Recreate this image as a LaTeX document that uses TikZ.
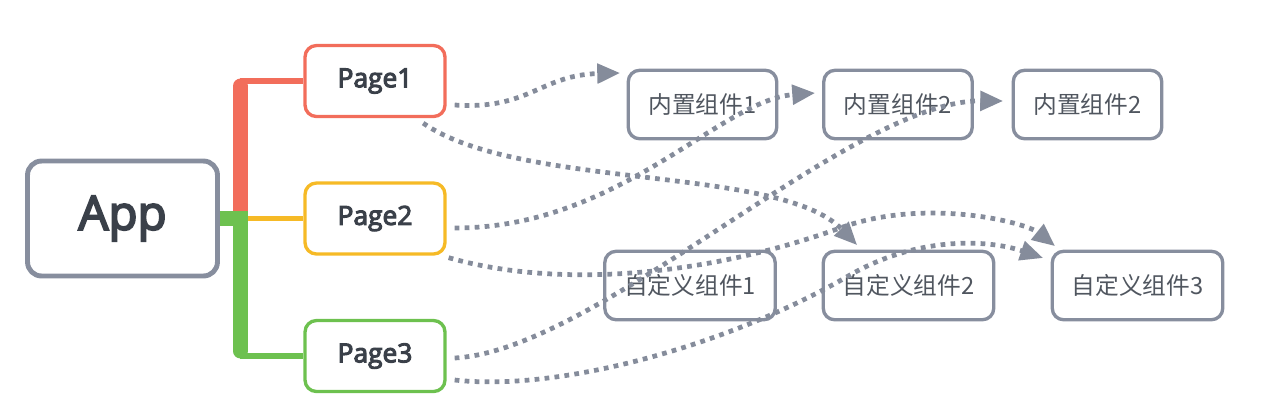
\documentclass[tikz,border=0pt]{standalone}
\usepackage{fontspec}
\setmainfont{Open Sans}
\newfontfamily\pagefont{Open Sans}[FakeBold=4]
\newfontfamily\cjkfont{Noto Sans CJK SC}
\usetikzlibrary{arrows.meta,calc}

\definecolor{colorBOX}{HTML}{878E9E}
\definecolor{colorP1}{HTML}{F26D5B}
\definecolor{colorP2}{HTML}{F6BA26}
\definecolor{colorP3}{HTML}{6DC14F}
\definecolor{colorDEP}{HTML}{858C9B}
\definecolor{colorTXT}{HTML}{3A4049}
\definecolor{colorCJK}{HTML}{50565F}
\tikzset{
   app/.style={draw=colorBOX,line width=2.8pt,rounded corners=8pt,minimum width=3.8cm,minimum height=2.3cm,text=colorTXT,font=\pagefont\fontsize{27}{32}\selectfont},
   page/.style={line width=1.9pt,rounded corners=6.5pt,minimum width=2.8cm,minimum height=1.42cm,text=colorTXT,font=\pagefont\fontsize{15}{18}\selectfont},
   comp/.style={draw=colorBOX,line width=1.9pt,rounded corners=6.5pt,minimum height=1.37cm,text=colorCJK,font=\cjkfont\fontsize{13.5}{16}\selectfont},
   dep/.style={-{Triangle[length=13pt,width=11pt]},draw=colorDEP,line width=2.7pt,dash pattern=on 2.7pt off 3pt},
   trunk/.style={line width=8.5pt,line cap=round},
   twig/.style={line width=2.9pt},
 }
\newcommand{\dtwig}[3]{\draw[twig, draw=#1] (#2) -- (#3)}

\begin{document}
\begin{tikzpicture}[x=0.02cm,y=-0.02cm]
      \useasboundingbox (0,0) rectangle (1269,414);

      \node[app] (App) at (122.5,218.5) {App};

      \node[page, draw=colorP1] (P1) at (375,81) {Page1};
      \node[page, draw=colorP2] (P2) at (375,218.5) {Page2};
      \node[page, draw=colorP3] (P3) at (375,356) {Page3};

      \node[comp, minimum width=2.97cm] (B1) at (702.5,104.5) {内置组件1};
      \node[comp, minimum width=2.97cm] (B2) at (898,104.5) {内置组件2};
      \node[comp, minimum width=2.97cm] (B3) at (1087.5,104.5) {内置组件2};

      \node[comp, minimum width=3.41cm] (C1) at (690,285.5) {自定义组件1};
      \node[comp, minimum width=3.41cm] (C2) at (908.5,285.5) {自定义组件2};
      \node[comp, minimum width=3.41cm] (C3) at (1137.5,285.5) {自定义组件3};

      % branches
      \coordinate (J) at ([shift={(20.5,0)}]App.east);
      \draw[trunk, colorP1] ($(J)+(0,-8)$) -- ($(J |- P1.west)+(0,5)$);
      \dtwig{colorP1}{J |- P1.west}{P1.west};
      \draw[twig, draw=colorP2, line width=2.3pt] ($(J)+(7.5,0)$) -- (P2.west);
      \draw[line width=8.5pt, colorP3] (App.east) -- ($(J)+(7.5,0)$);
      \draw[trunk, colorP3] (J) -- ($(J |- P3.west)+(0,-5)$);
      \dtwig{colorP3}{J |- P3.west}{P3.west};

      % uses
      \draw[dep] ([shift={(8,24)}]P1.east) .. controls +(75,5) and +(-80,2) .. ([shift={(-6.5,-31.5)}]B1.west);
      \draw[dep] ([shift={(-23.5,5)}]P1.south east) .. controls +(97,67) and +(-77,-80) .. ([shift={(35.5,-4.5)}]C2.north west);
      \draw[dep] ([shift={(8,9.5)}]P2.east) .. controls +(165,0) and +(-95,7) .. ([shift={(-7,-11.5)}]B2.west);
      \draw[dep] ([shift={(2,2)}]P2.south east) .. controls +(112,32) and +(-130,47) .. (840,228)
            .. controls +(85,-31) and +(-30,-24) .. ([shift={(4.5,-3.5)}]C3.north west);
      \draw[dep] ([shift={(8,2)}]P3.east) .. controls +(145,-8) and +(-153,-1) .. ([shift={(-8.5,-3.5)}]B3.west);
      \draw[dep] ([shift={(8,24)}]P3.east) .. controls +(105,12) and +(-120,70) .. (850,275)
            .. controls +(70,-40) and +(-53,-18) .. ([shift={(-7.5,-27.5)}]C3.west);
    \end{tikzpicture}
\end{document}
